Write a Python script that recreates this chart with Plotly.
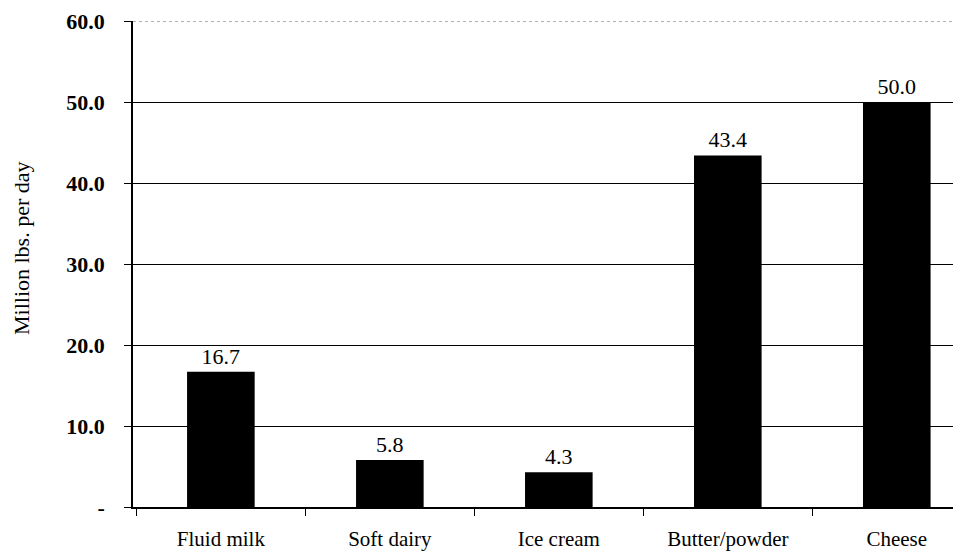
import plotly.graph_objects as go

categories = ["Fluid milk", "Soft dairy", "Ice cream", "Butter/powder", "Cheese"]
values = [16.7, 5.8, 4.3, 43.4, 50.0]
y_tickvals = [0, 10, 20, 30, 40, 50, 60]
y_ticktext = ["<b>-</b>", "<b>10.0</b>", "<b>20.0</b>", "<b>30.0</b>", "<b>40.0</b>", "<b>50.0</b>", "<b>60.0</b>"]
bar_labels = [f"{v:.1f}" for v in values]
y_title = "Million lbs. per day"

font = "Liberation Serif, Times New Roman, serif"
y_max = y_tickvals[-1]

fig = go.Figure(go.Bar(
    x=categories, y=values, width=0.4,
    marker=dict(color="black", line=dict(width=0)),
    text=bar_labels, textposition="outside",
    textfont=dict(family=font, size=22, color="black"),
    cliponaxis=False,
))

fig.update_layout(
    width=953, height=545,
    margin=dict(l=125, r=0, t=13, b=46),
    paper_bgcolor="white", plot_bgcolor="white",
    showlegend=False,
    font=dict(family=font, color="black"),
    annotations=[dict(
        text=y_title, textangle=-90, xref="paper", yref="paper",
        x=-0.134, y=0.533, xanchor="center", yanchor="middle", showarrow=False,
        font=dict(family=font, size=22, color="black"),
    )],
    shapes=[dict(
        type="line", xref="paper", yref="y", x0=0, x1=1, y0=y_max, y1=y_max,
        line=dict(color="#666666", width=1, dash="dot"),
    )],
)
fig.update_xaxes(
    range=[-0.52, 4.38], automargin=False,
    showline=True, linecolor="black", linewidth=1.5,
    ticks="outside", tickson="boundaries", ticklen=7, tickcolor="black",
    tickfont=dict(family=font, size=21, color="black"),
    ticklabelstandoff=12,
    showgrid=False,
)
fig.update_yaxes(
    range=[0, y_max], automargin=False,
    tickvals=y_tickvals, ticktext=y_ticktext,
    showline=True, linecolor="black", linewidth=1.5,
    ticks="outside", ticklen=7, tickcolor="black",
    tickfont=dict(family=font, size=22, color="black"),
    ticklabelstandoff=15,
    showgrid=True, gridcolor="black", gridwidth=1,
    zeroline=False,
)

fig.write_html("out.html")
